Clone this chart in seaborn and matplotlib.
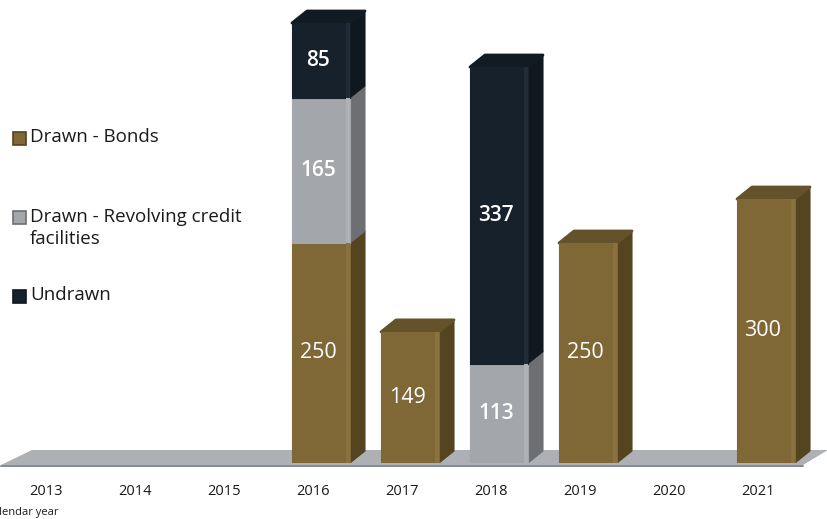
import numpy as np
import pandas as pd
import matplotlib
matplotlib.use("Agg")
import matplotlib.pyplot as plt
from matplotlib.patches import Polygon, Rectangle
import seaborn as sns

years = ["2013", "2014", "2015", "2016", "2017", "2018", "2019", "2020", "2021"]
bonds = [0, 0, 0, 250, 149, 0, 250, 0, 300]
revolving = [0, 0, 0, 165, 0, 113, 0, 0, 0]
undrawn = [0, 0, 0, 85, 0, 337, 0, 0, 0]

series_names = ["Drawn - Bonds", "Drawn - Revolving credit\nfacilities", "Undrawn"]
front_colors = ["#7f6736", "#a3a6ab", "#17212c"]
side_colors = ["#54441f", "#6d6f73", "#0f181f"]
top_colors = ["#64522a", "#85878b", "#111b24"]
glow_colors = ["#8a7240", "#aeb1b6", "#212c38"]

W, H = 828, 519
BASE = 463
PX_PER_STEP = 89.0
PX_PER_UNIT = 0.88
DEPTH_X, DEPTH_Y = 15, 12

sns.set_theme(style="white")
plt.rcParams["font.family"] = ["Open Sans", "DejaVu Sans"]

fig = plt.figure(figsize=(W / 100, H / 100), dpi=100, facecolor="white")
ax = fig.add_axes([0, (H - BASE) / H, 1, BASE / H])

df = pd.DataFrame({"year": years, "bonds": bonds, "revolving": revolving, "undrawn": undrawn})
bottoms = np.zeros(len(years))
for col, color in zip(["bonds", "revolving", "undrawn"], front_colors):
    sns.barplot(data=df, x="year", y=col, order=years, color=color, saturation=1,
                width=58 / PX_PER_STEP, bottom=bottoms, ax=ax, zorder=3, linewidth=0)
    bottoms = bottoms + df[col].to_numpy()

ax.set_xlim(-54 / PX_PER_STEP, (W - 54) / PX_PER_STEP)
ax.set_ylim(0, BASE / PX_PER_UNIT)
for s in ax.spines.values():
    s.set_visible(False)
ax.set_xlabel("")
ax.set_ylabel("")
ax.set_yticks([])
ax.set_xticks(np.arange(len(years)) - 8 / PX_PER_STEP, years)
ax.tick_params(axis="x", length=0, pad=15, labelsize=10.5, labelcolor="#1a1a1a")


def px(x, y):
    """Figure pixel (from top-left) to data coordinates."""
    return (x - 54) / PX_PER_STEP, (BASE - y) / PX_PER_UNIT


dx, dy = DEPTH_X / PX_PER_STEP, DEPTH_Y / PX_PER_UNIT

# Floor plate under the columns
floor = [px(1, 465), px(32, 450), px(828, 450), px(803, 465)]
ax.add_patch(Polygon(floor, closed=True, fc="#adb1b5", ec="none", zorder=1, clip_on=False))
ax.plot(*zip(px(1, 465.5), px(803, 465.5)), color="#85888c", lw=1.4, zorder=1.5, clip_on=False)

# Extruded faces on each stacked segment
totals = df[["bonds", "revolving", "undrawn"]].sum(axis=1).to_numpy()
for k, container in enumerate(ax.containers):
    for bar, total in zip(container, totals):
        h = bar.get_height()
        if h <= 0:
            continue
        x0, y0, w = bar.get_x(), bar.get_y(), bar.get_width()
        x1, y1 = x0 + w, y0 + h
        bar.set_edgecolor(front_colors[k])
        bar.set_linewidth(0.8)
        bar.set_joinstyle("round")
        ax.add_patch(Polygon([(x1, y0), (x1 + dx, y0 + dy), (x1 + dx, y1 + dy), (x1, y1)],
                             closed=True, fc=side_colors[k], ec=side_colors[k], lw=0.8,
                             joinstyle="round", zorder=2.5))
        ax.add_patch(Rectangle((x1 - 4 / PX_PER_STEP, y0), 4 / PX_PER_STEP, h,
                               fc=glow_colors[k], ec="none", zorder=3.2))
        if abs(y1 - total) < 1e-6:
            ax.add_patch(Polygon([(x0, y1), (x0 + dx, y1 + dy), (x1 + dx, y1 + dy), (x1, y1)],
                                 closed=True, fc=top_colors[k], ec=top_colors[k], lw=2,
                                 joinstyle="round", zorder=2.6))

        # Value written in the middle of the segment
        bold = k > 0
        ax.text(x0 + w / 2 - 3 / PX_PER_STEP, y0 + h / 2, str(int(h)), color="white",
                ha="center", va="center", fontsize=15.5 if not bold else 15,
                fontweight="semibold" if bold else "normal", zorder=5)

# Key on the left
key_rows = [(131.5, 137), (211, 228), (290, 295.5)]
for (box_y, text_y), name, fc, ec in zip(key_rows, series_names, front_colors, side_colors):
    x, y = px(13, box_y + 13)
    ax.add_patch(Rectangle((x, y), 13 / PX_PER_STEP, 13 / PX_PER_UNIT, fc=fc, ec=ec, lw=1.2, zorder=4))
    ax.text(*px(30, text_y), name, ha="left", va="center", fontsize=13.5, color="#1a1a1a",
            linespacing=1.25, zorder=4)

ax.text(*px(59, 513), "Calendar year", ha="right", va="center", fontsize=8,
        color="#1a1a1a", clip_on=False)

fig.savefig("out.png", dpi=100, facecolor="white")
